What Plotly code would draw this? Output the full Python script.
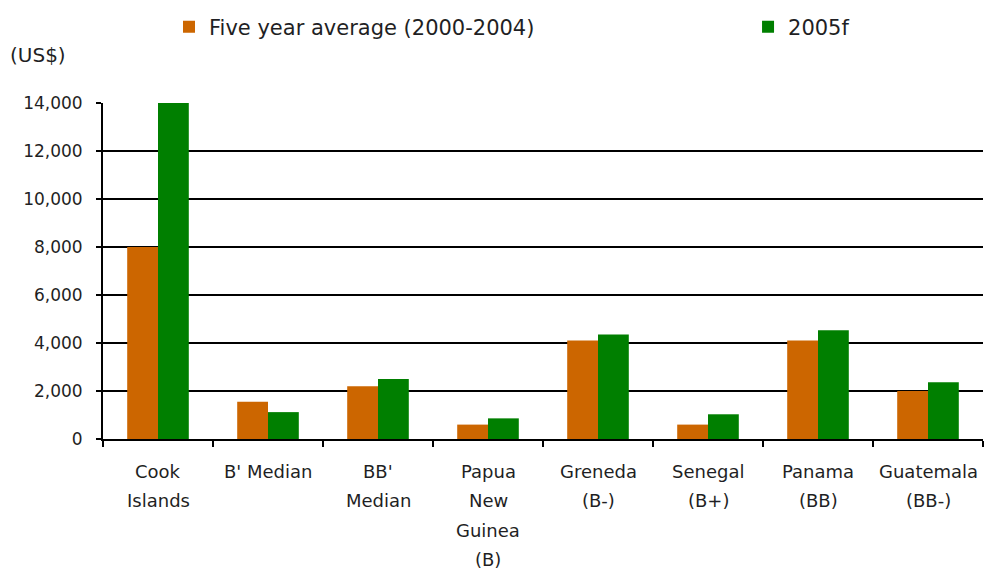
import plotly.graph_objects as go

categories = [
    "Cook<br>Islands", "B' Median", "BB'<br>Median", "Papua<br>New<br>Guinea<br>(B)",
    "Greneda<br>(B-)", "Senegal<br>(B+)", "Panama<br>(BB)", "Guatemala<br>(BB-)",
]
avg_2000_2004 = [8000, 1550, 2200, 600, 4100, 600, 4100, 2000]
forecast_2005 = [14000, 1120, 2500, 860, 4350, 1030, 4530, 2360]
y_ticks = [0, 2000, 4000, 6000, 8000, 10000, 12000, 14000]

FONT = "DejaVu Sans, Verdana, sans-serif"
TEXT = "#1f1f24"

fig = go.Figure()
fig.add_trace(go.Bar(
    x=categories, y=avg_2000_2004, name="Five year average (2000-2004)",
    marker=dict(color="#CC6600", line=dict(width=0)), legend="legend",
))
fig.add_trace(go.Bar(
    x=categories, y=forecast_2005, name="2005f",
    marker=dict(color="#007F00", line=dict(width=0)), legend="legend2",
))

# category labels, one line per annotation for wider line spacing
label_annotations = []
for cat in categories:
    for i, line in enumerate(cat.split("<br>")):
        label_annotations.append(dict(
            text=line, x=cat, xref="x", y=0, yref="paper",
            xanchor="center", yanchor="middle", showarrow=False,
            yshift=-32 - 29.5 * i,
            font=dict(family=FONT, size=18, color=TEXT),
        ))

legend_style = dict(
    orientation="h", xref="paper", xanchor="left",
    y=1 - 27 / 570, yref="container", yanchor="middle",
    font=dict(family=FONT, size=21, color=TEXT),
    bgcolor="rgba(0,0,0,0)",
)

fig.update_layout(
    width=985, height=570,
    margin=dict(l=103, r=2, t=103, b=131),
    paper_bgcolor="white", plot_bgcolor="white",
    font=dict(family=FONT, size=17, color=TEXT),
    barmode="group", bargap=0.44, bargroupgap=0,
    showlegend=True,
    legend=dict(x=0.075, **legend_style),
    legend2=dict(x=0.733, **legend_style),
    xaxis=dict(
        showline=True, linecolor="black", linewidth=1.8,
        ticks="outside", ticklen=6, tickcolor="black", tickwidth=1.5,
        tickson="boundaries", showticklabels=False,
        showgrid=False, automargin=False,
    ),
    yaxis=dict(
        range=[0, 14000], tickvals=y_ticks, tickformat=",d",
        showline=True, linecolor="black", linewidth=1.8,
        ticks="outside", ticklen=5, tickcolor="black", tickwidth=1.5,
        ticklabelstandoff=10,
        showgrid=True, gridcolor="black", gridwidth=1.5,
        zeroline=False, automargin=False,
        tickfont=dict(family=FONT, size=17, color=TEXT),
    ),
    annotations=label_annotations + [dict(
        text="(US$)", x=0, y=1, xref="paper", yref="paper",
        xanchor="left", yanchor="middle", xshift=-95, yshift=48,
        showarrow=False, font=dict(family=FONT, size=20, color=TEXT),
    )],
)

fig.write_html("out.html")
